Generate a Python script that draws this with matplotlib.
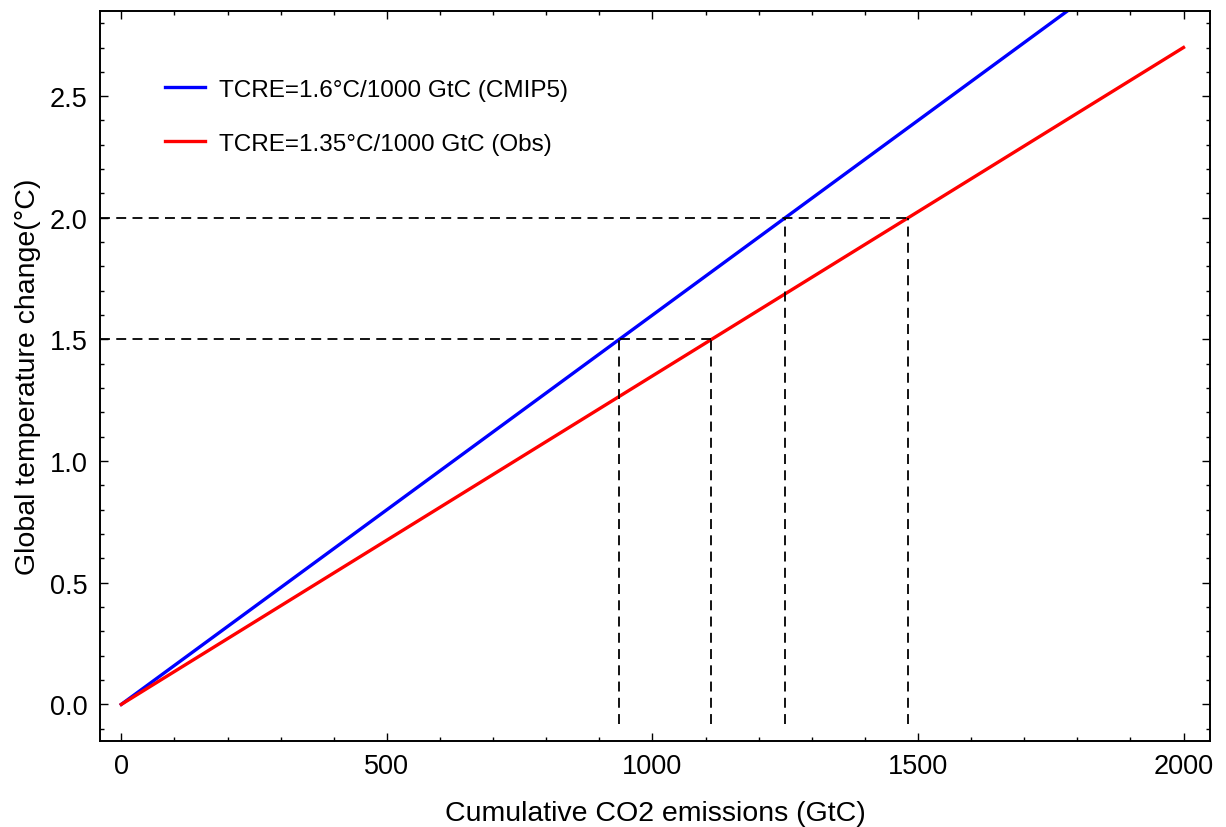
import matplotlib
matplotlib.use("Agg")
import matplotlib.pyplot as plt
import numpy as np
from matplotlib.ticker import MultipleLocator

plt.rcParams['font.family'] = ['Liberation Sans', 'DejaVu Sans']

# data
emissions = [0, 2000]
tcre_cmip5 = 1.6   # degC per 1000 GtC
tcre_obs = 1.35
targets = [1.5, 2.0]
labels = ['TCRE=1.6°C/1000 GtC (CMIP5)', 'TCRE=1.35°C/1000 GtC (Obs)']

x = np.array(emissions)
fig = plt.figure(figsize=(12.26, 8.28), dpi=100)
ax = fig.add_axes([0.0816, 0.104, 0.9054, 0.8815])

ax.plot(x, tcre_cmip5 * x / 1000, color='#0000ff', lw=2.4, label=labels[0])
ax.plot(x, tcre_obs * x / 1000, color='#ff0000', lw=2.4, label=labels[1])

xmin, ymin = -40, -0.15
vbot = -0.08
for t in targets:
    e1 = t / tcre_cmip5 * 1000
    e2 = t / tcre_obs * 1000
    ax.plot([xmin, e2], [t, t], color='black', lw=1.3, dashes=(5.5, 3.5))
    for e in (e1, e2):
        ax.plot([e, e], [vbot, t], color='black', lw=1.3, dashes=(5.5, 3.5))

ax.set_xlim(xmin, 2050)
ax.set_ylim(ymin, 2.85)
ax.xaxis.set_major_locator(MultipleLocator(500))
ax.xaxis.set_minor_locator(MultipleLocator(100))
ax.yaxis.set_major_locator(MultipleLocator(0.5))
ax.yaxis.set_minor_locator(MultipleLocator(0.1))
ax.yaxis.set_major_formatter(matplotlib.ticker.FormatStrFormatter('%.1f'))
ax.tick_params(which='both', direction='in', top=True, right=True, labelsize=19.5, width=1.0)
ax.tick_params(which='major', length=5.5, pad=9)
ax.tick_params(which='minor', length=3.2)
for s in ax.spines.values():
    s.set_linewidth(1.4)

ax.set_xlabel('Cumulative CO2 emissions (GtC)', fontsize=20.5, labelpad=15)
ax.set_ylabel('Global temperature change(°C)', fontsize=20.5, labelpad=6)

ax.legend(frameon=False, loc='upper left', bbox_to_anchor=(0.0586, 0.907),
          borderpad=0, borderaxespad=0,
          fontsize=17.5, handlelength=1.65, handletextpad=0.55, labelspacing=1.3)

fig.savefig('out.png', dpi=100)
